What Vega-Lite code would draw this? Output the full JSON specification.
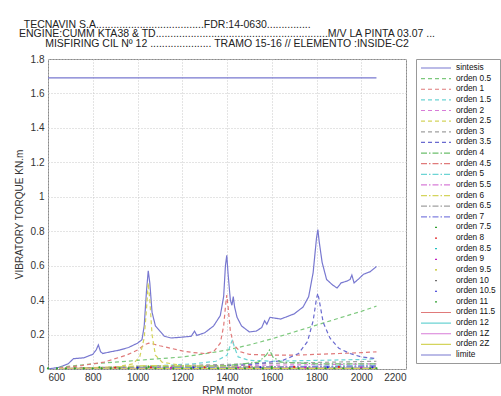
{
  "$schema": "https://vega.github.io/schema/vega-lite/v6.json",
  "width": 358,
  "height": 310,
  "padding": {"left": 14, "top": 19, "right": 5, "bottom": 2},
  "background": "white",
  "title": {
    "text": [
      "TECNAVIN S.A.....................................FDR:14-0630...............\u00a0\u00a0\u00a0\u00a0\u00a0\u00a0\u00a0\u00a0\u00a0\u00a0\u00a0\u00a0\u00a0\u00a0\u00a0\u00a0\u00a0\u00a0\u00a0\u00a0\u00a0\u00a0\u00a0\u00a0\u00a0\u00a0\u00a0\u00a0\u00a0\u00a0\u00a0\u00a0\u00a0\u00a0\u00a0\u00a0\u00a0\u00a0\u00a0\u00a0\u00a0\u200b",
      "ENGINE:CUMM KTA38 & TD...........................................................M/V LA PINTA 03.07 ...",
      "MISFIRING CIL Nº 12 ..................... TRAMO 15-16 // ELEMENTO :INSIDE-C2"
    ],
    "font": "Liberation Sans",
    "fontSize": 10.5,
    "fontWeight": "normal",
    "color": "#222222",
    "lineHeight": 9.5,
    "offset": 5,
    "anchor": "middle",
    "frame": "group"
  },
  "datasets": {
    "lines": [
      {"s": "sintesis", "x": 600, "y": 0.0},
      {"s": "sintesis", "x": 650, "y": 0.01},
      {"s": "sintesis", "x": 690, "y": 0.03},
      {"s": "sintesis", "x": 714, "y": 0.06},
      {"s": "sintesis", "x": 760, "y": 0.065},
      {"s": "sintesis", "x": 800, "y": 0.085},
      {"s": "sintesis", "x": 815, "y": 0.11},
      {"s": "sintesis", "x": 825, "y": 0.14},
      {"s": "sintesis", "x": 835, "y": 0.1},
      {"s": "sintesis", "x": 845, "y": 0.09},
      {"s": "sintesis", "x": 880, "y": 0.1},
      {"s": "sintesis", "x": 920, "y": 0.11},
      {"s": "sintesis", "x": 960, "y": 0.125},
      {"s": "sintesis", "x": 1000, "y": 0.15},
      {"s": "sintesis", "x": 1020, "y": 0.17},
      {"s": "sintesis", "x": 1030, "y": 0.25},
      {"s": "sintesis", "x": 1040, "y": 0.45},
      {"s": "sintesis", "x": 1048, "y": 0.57},
      {"s": "sintesis", "x": 1055, "y": 0.5},
      {"s": "sintesis", "x": 1065, "y": 0.33},
      {"s": "sintesis", "x": 1080, "y": 0.25},
      {"s": "sintesis", "x": 1100, "y": 0.22},
      {"s": "sintesis", "x": 1120, "y": 0.19},
      {"s": "sintesis", "x": 1150, "y": 0.18},
      {"s": "sintesis", "x": 1200, "y": 0.185},
      {"s": "sintesis", "x": 1240, "y": 0.19},
      {"s": "sintesis", "x": 1255, "y": 0.22},
      {"s": "sintesis", "x": 1265, "y": 0.195},
      {"s": "sintesis", "x": 1300, "y": 0.21},
      {"s": "sintesis", "x": 1340, "y": 0.25},
      {"s": "sintesis", "x": 1370, "y": 0.31},
      {"s": "sintesis", "x": 1385, "y": 0.42},
      {"s": "sintesis", "x": 1393, "y": 0.6},
      {"s": "sintesis", "x": 1399, "y": 0.66},
      {"s": "sintesis", "x": 1405, "y": 0.55},
      {"s": "sintesis", "x": 1415, "y": 0.4},
      {"s": "sintesis", "x": 1422, "y": 0.37},
      {"s": "sintesis", "x": 1428, "y": 0.42},
      {"s": "sintesis", "x": 1434, "y": 0.36},
      {"s": "sintesis", "x": 1445, "y": 0.3},
      {"s": "sintesis", "x": 1465, "y": 0.25},
      {"s": "sintesis", "x": 1500, "y": 0.215},
      {"s": "sintesis", "x": 1530, "y": 0.22},
      {"s": "sintesis", "x": 1555, "y": 0.24},
      {"s": "sintesis", "x": 1568, "y": 0.28},
      {"s": "sintesis", "x": 1578, "y": 0.26},
      {"s": "sintesis", "x": 1592, "y": 0.3},
      {"s": "sintesis", "x": 1640, "y": 0.29},
      {"s": "sintesis", "x": 1700, "y": 0.32},
      {"s": "sintesis", "x": 1740, "y": 0.36},
      {"s": "sintesis", "x": 1765, "y": 0.42},
      {"s": "sintesis", "x": 1785, "y": 0.56},
      {"s": "sintesis", "x": 1800, "y": 0.76},
      {"s": "sintesis", "x": 1806, "y": 0.81},
      {"s": "sintesis", "x": 1812, "y": 0.74},
      {"s": "sintesis", "x": 1825, "y": 0.62},
      {"s": "sintesis", "x": 1845, "y": 0.52},
      {"s": "sintesis", "x": 1870, "y": 0.49},
      {"s": "sintesis", "x": 1892, "y": 0.47},
      {"s": "sintesis", "x": 1910, "y": 0.5},
      {"s": "sintesis", "x": 1935, "y": 0.51},
      {"s": "sintesis", "x": 1950, "y": 0.52},
      {"s": "sintesis", "x": 1958, "y": 0.545},
      {"s": "sintesis", "x": 1968, "y": 0.5},
      {"s": "sintesis", "x": 1990, "y": 0.525},
      {"s": "sintesis", "x": 2010, "y": 0.55},
      {"s": "sintesis", "x": 2040, "y": 0.565},
      {"s": "sintesis", "x": 2068, "y": 0.595},
      {"s": "limite", "x": 600, "y": 1.69},
      {"s": "limite", "x": 2068, "y": 1.69},
      {"s": "orden 0.5", "x": 650, "y": 0.01},
      {"s": "orden 0.5", "x": 800, "y": 0.03},
      {"s": "orden 0.5", "x": 900, "y": 0.04},
      {"s": "orden 0.5", "x": 1000, "y": 0.05},
      {"s": "orden 0.5", "x": 1100, "y": 0.06},
      {"s": "orden 0.5", "x": 1200, "y": 0.07},
      {"s": "orden 0.5", "x": 1300, "y": 0.088},
      {"s": "orden 0.5", "x": 1400, "y": 0.11},
      {"s": "orden 0.5", "x": 1500, "y": 0.14},
      {"s": "orden 0.5", "x": 1600, "y": 0.175},
      {"s": "orden 0.5", "x": 1700, "y": 0.215},
      {"s": "orden 0.5", "x": 1800, "y": 0.255},
      {"s": "orden 0.5", "x": 1900, "y": 0.295},
      {"s": "orden 0.5", "x": 2000, "y": 0.335},
      {"s": "orden 0.5", "x": 2068, "y": 0.365},
      {"s": "orden 1", "x": 650, "y": 0.005},
      {"s": "orden 1", "x": 750, "y": 0.02},
      {"s": "orden 1", "x": 850, "y": 0.04},
      {"s": "orden 1", "x": 950, "y": 0.08},
      {"s": "orden 1", "x": 1000, "y": 0.11},
      {"s": "orden 1", "x": 1030, "y": 0.14},
      {"s": "orden 1", "x": 1050, "y": 0.15},
      {"s": "orden 1", "x": 1070, "y": 0.145},
      {"s": "orden 1", "x": 1100, "y": 0.135},
      {"s": "orden 1", "x": 1150, "y": 0.12},
      {"s": "orden 1", "x": 1200, "y": 0.105},
      {"s": "orden 1", "x": 1250, "y": 0.095},
      {"s": "orden 1", "x": 1300, "y": 0.09},
      {"s": "orden 1", "x": 1340, "y": 0.1},
      {"s": "orden 1", "x": 1370, "y": 0.15},
      {"s": "orden 1", "x": 1385, "y": 0.25},
      {"s": "orden 1", "x": 1393, "y": 0.36},
      {"s": "orden 1", "x": 1399, "y": 0.43},
      {"s": "orden 1", "x": 1405, "y": 0.36},
      {"s": "orden 1", "x": 1415, "y": 0.22},
      {"s": "orden 1", "x": 1430, "y": 0.14},
      {"s": "orden 1", "x": 1460, "y": 0.1},
      {"s": "orden 1", "x": 1500, "y": 0.085},
      {"s": "orden 1", "x": 1600, "y": 0.08},
      {"s": "orden 1", "x": 1700, "y": 0.08},
      {"s": "orden 1", "x": 1800, "y": 0.085},
      {"s": "orden 1", "x": 1900, "y": 0.09},
      {"s": "orden 1", "x": 2000, "y": 0.095},
      {"s": "orden 1", "x": 2068, "y": 0.1},
      {"s": "orden 1.5", "x": 650, "y": 0.002},
      {"s": "orden 1.5", "x": 900, "y": 0.01},
      {"s": "orden 1.5", "x": 1100, "y": 0.02},
      {"s": "orden 1.5", "x": 1250, "y": 0.03},
      {"s": "orden 1.5", "x": 1350, "y": 0.045},
      {"s": "orden 1.5", "x": 1400, "y": 0.08},
      {"s": "orden 1.5", "x": 1418, "y": 0.15},
      {"s": "orden 1.5", "x": 1425, "y": 0.17},
      {"s": "orden 1.5", "x": 1432, "y": 0.13},
      {"s": "orden 1.5", "x": 1450, "y": 0.07},
      {"s": "orden 1.5", "x": 1500, "y": 0.05},
      {"s": "orden 1.5", "x": 1600, "y": 0.045},
      {"s": "orden 1.5", "x": 1800, "y": 0.05},
      {"s": "orden 1.5", "x": 2000, "y": 0.055},
      {"s": "orden 1.5", "x": 2068, "y": 0.06},
      {"s": "orden 2", "x": 650, "y": 0.002},
      {"s": "orden 2", "x": 1000, "y": 0.01},
      {"s": "orden 2", "x": 1400, "y": 0.02},
      {"s": "orden 2", "x": 1800, "y": 0.025},
      {"s": "orden 2", "x": 2068, "y": 0.03},
      {"s": "orden 2.5", "x": 650, "y": 0.002},
      {"s": "orden 2.5", "x": 900, "y": 0.01},
      {"s": "orden 2.5", "x": 980, "y": 0.03},
      {"s": "orden 2.5", "x": 1010, "y": 0.07},
      {"s": "orden 2.5", "x": 1030, "y": 0.18},
      {"s": "orden 2.5", "x": 1042, "y": 0.38},
      {"s": "orden 2.5", "x": 1048, "y": 0.5},
      {"s": "orden 2.5", "x": 1055, "y": 0.4},
      {"s": "orden 2.5", "x": 1065, "y": 0.2},
      {"s": "orden 2.5", "x": 1080, "y": 0.08},
      {"s": "orden 2.5", "x": 1110, "y": 0.04},
      {"s": "orden 2.5", "x": 1200, "y": 0.02},
      {"s": "orden 2.5", "x": 1400, "y": 0.01},
      {"s": "orden 2.5", "x": 2068, "y": 0.005},
      {"s": "orden 3", "x": 650, "y": 0.002},
      {"s": "orden 3", "x": 1000, "y": 0.015},
      {"s": "orden 3", "x": 1500, "y": 0.03},
      {"s": "orden 3", "x": 2068, "y": 0.045},
      {"s": "orden 3.5", "x": 650, "y": 0.002},
      {"s": "orden 3.5", "x": 1200, "y": 0.01},
      {"s": "orden 3.5", "x": 1500, "y": 0.025},
      {"s": "orden 3.5", "x": 1650, "y": 0.05},
      {"s": "orden 3.5", "x": 1720, "y": 0.09},
      {"s": "orden 3.5", "x": 1760, "y": 0.16},
      {"s": "orden 3.5", "x": 1785, "y": 0.28},
      {"s": "orden 3.5", "x": 1800, "y": 0.41},
      {"s": "orden 3.5", "x": 1806, "y": 0.44},
      {"s": "orden 3.5", "x": 1812, "y": 0.4},
      {"s": "orden 3.5", "x": 1830, "y": 0.27},
      {"s": "orden 3.5", "x": 1860, "y": 0.18},
      {"s": "orden 3.5", "x": 1900, "y": 0.12},
      {"s": "orden 3.5", "x": 1950, "y": 0.09},
      {"s": "orden 3.5", "x": 2000, "y": 0.07},
      {"s": "orden 3.5", "x": 2068, "y": 0.06},
      {"s": "orden 4", "x": 650, "y": 0.002},
      {"s": "orden 4", "x": 1400, "y": 0.02},
      {"s": "orden 4", "x": 1540, "y": 0.04},
      {"s": "orden 4", "x": 1575, "y": 0.08},
      {"s": "orden 4", "x": 1590, "y": 0.11},
      {"s": "orden 4", "x": 1605, "y": 0.07},
      {"s": "orden 4", "x": 1640, "y": 0.04},
      {"s": "orden 4", "x": 1800, "y": 0.03},
      {"s": "orden 4", "x": 2068, "y": 0.03},
      {"s": "orden 4.5", "x": 650, "y": 0.0},
      {"s": "orden 4.5", "x": 2068, "y": 0.015},
      {"s": "orden 5", "x": 650, "y": 0.0},
      {"s": "orden 5", "x": 2068, "y": 0.02},
      {"s": "orden 5.5", "x": 650, "y": 0.0},
      {"s": "orden 5.5", "x": 2068, "y": 0.01},
      {"s": "orden 6", "x": 650, "y": 0.0},
      {"s": "orden 6", "x": 1048, "y": 0.02},
      {"s": "orden 6", "x": 2068, "y": 0.008},
      {"s": "orden 6.5", "x": 650, "y": 0.0},
      {"s": "orden 6.5", "x": 2068, "y": 0.012},
      {"s": "orden 7", "x": 650, "y": 0.0},
      {"s": "orden 7", "x": 1400, "y": 0.01},
      {"s": "orden 7", "x": 2068, "y": 0.018},
      {"s": "orden 11.5", "x": 650, "y": 0.003},
      {"s": "orden 11.5", "x": 2068, "y": 0.006},
      {"s": "orden 12", "x": 650, "y": 0.002},
      {"s": "orden 12", "x": 2068, "y": 0.005},
      {"s": "orden 1Z", "x": 650, "y": 0.001},
      {"s": "orden 1Z", "x": 2068, "y": 0.004},
      {"s": "orden 2Z", "x": 650, "y": 0.001},
      {"s": "orden 2Z", "x": 2068, "y": 0.003}
    ],
    "dots": [
      {"s": "orden 11", "x": 600, "y": 0.003},
      {"s": "orden 11", "x": 640, "y": 0.003},
      {"s": "orden 11", "x": 680, "y": 0.003},
      {"s": "orden 11", "x": 720, "y": 0.003},
      {"s": "orden 11", "x": 760, "y": 0.003},
      {"s": "orden 11", "x": 800, "y": 0.004},
      {"s": "orden 11", "x": 840, "y": 0.004},
      {"s": "orden 11", "x": 880, "y": 0.004},
      {"s": "orden 11", "x": 920, "y": 0.004},
      {"s": "orden 11", "x": 960, "y": 0.004},
      {"s": "orden 11", "x": 1000, "y": 0.004},
      {"s": "orden 11", "x": 1040, "y": 0.004},
      {"s": "orden 11", "x": 1080, "y": 0.004},
      {"s": "orden 11", "x": 1120, "y": 0.004},
      {"s": "orden 11", "x": 1160, "y": 0.004},
      {"s": "orden 11", "x": 1200, "y": 0.004},
      {"s": "orden 11", "x": 1240, "y": 0.004},
      {"s": "orden 11", "x": 1280, "y": 0.004},
      {"s": "orden 11", "x": 1320, "y": 0.004},
      {"s": "orden 11", "x": 1360, "y": 0.004},
      {"s": "orden 11", "x": 1400, "y": 0.004},
      {"s": "orden 11", "x": 1440, "y": 0.004},
      {"s": "orden 11", "x": 1480, "y": 0.004},
      {"s": "orden 11", "x": 1520, "y": 0.004},
      {"s": "orden 11", "x": 1560, "y": 0.004},
      {"s": "orden 11", "x": 1600, "y": 0.004},
      {"s": "orden 11", "x": 1640, "y": 0.004},
      {"s": "orden 11", "x": 1680, "y": 0.004},
      {"s": "orden 11", "x": 1720, "y": 0.004},
      {"s": "orden 11", "x": 1760, "y": 0.004},
      {"s": "orden 11", "x": 1800, "y": 0.004},
      {"s": "orden 11", "x": 1840, "y": 0.004},
      {"s": "orden 11", "x": 1880, "y": 0.004},
      {"s": "orden 11", "x": 1920, "y": 0.004},
      {"s": "orden 11", "x": 1960, "y": 0.004},
      {"s": "orden 11", "x": 2000, "y": 0.004},
      {"s": "orden 11", "x": 2040, "y": 0.004},
      {"s": "orden 11", "x": 2068, "y": 0.004},
      {"s": "orden 8", "x": 900, "y": 0.008},
      {"s": "orden 8", "x": 1060, "y": 0.01},
      {"s": "orden 8", "x": 1300, "y": 0.01},
      {"s": "orden 8", "x": 1500, "y": 0.012},
      {"s": "orden 8", "x": 1700, "y": 0.012},
      {"s": "orden 8", "x": 1900, "y": 0.012},
      {"s": "orden 10.5", "x": 1000, "y": 0.008},
      {"s": "orden 10.5", "x": 1250, "y": 0.008},
      {"s": "orden 10.5", "x": 1550, "y": 0.01},
      {"s": "orden 10.5", "x": 1850, "y": 0.01},
      {"s": "orden 10.5", "x": 2050, "y": 0.01},
      {"s": "orden 9", "x": 1150, "y": 0.006},
      {"s": "orden 9", "x": 1450, "y": 0.008},
      {"s": "orden 9", "x": 1750, "y": 0.008},
      {"s": "orden 9", "x": 2000, "y": 0.008},
      {"s": "orden 7.5", "x": 830, "y": 0.01},
      {"s": "orden 7.5", "x": 1050, "y": 0.012},
      {"s": "orden 7.5", "x": 1600, "y": 0.012}
    ]
  },
  "encoding": {
    "x": {
      "field": "x",
      "type": "quantitative",
      "scale": {"domain": [600, 2200], "nice": false},
      "axis": {"values": [600, 800, 1000, 1200, 1400, 1600, 1800, 2000, 2200], "format": "d", "title": "RPM motor", "labelOverlap": false}
    },
    "y": {
      "field": "y",
      "type": "quantitative",
      "scale": {"domain": [0, 1.8], "nice": false},
      "axis": {"values": [0, 0.2, 0.4, 0.6, 0.8, 1, 1.2, 1.4, 1.6, 1.8], "format": "~g", "title": "VIBRATORY TORQUE KN.m", "labelOverlap": false}
    }
  },
  "layer": [
    {
      "data": {"name": "lines"},
      "mark": {"type": "line", "strokeWidth": 1.2, "clip": true},
      "encoding": {
        "color": {
          "field": "s",
          "type": "nominal",
          "scale": {
            "domain": ["sintesis", "orden 0.5", "orden 1", "orden 1.5", "orden 2", "orden 2.5", "orden 3", "orden 3.5", "orden 4", "orden 4.5", "orden 5", "orden 5.5", "orden 6", "orden 6.5", "orden 7", "orden 7.5", "orden 8", "orden 8.5", "orden 9", "orden 9.5", "orden 10", "orden 10.5", "orden 11", "orden 11.5", "orden 12", "orden 1Z", "orden 2Z", "limite"],
            "range": ["#7878d0", "#7cc87c", "#e07a7a", "#6cd4d4", "#d87cd8", "#d4d45c", "#a0a0a0", "#6a6ad0", "#6cbf6c", "#e07a7a", "#6cd4d4", "#d87cd8", "#d4d45c", "#a0a0a0", "#8080e0", "#30a030", "#e02020", "#20c0c0", "#c020c0", "#c0c020", "#707070", "#2020d0", "#30a030", "#e07a7a", "#6cd4d4", "#d87cd8", "#d4d45c", "#7878d0"]
          },
          "legend": {
            "title": null,
            "orient": "right",
            "offset": 10,
            "symbolType": "M-1,0L6.5,0",
            "symbolSize": 64,
            "symbolStrokeWidth": 1.2,
            "labelFontSize": 8.3,
            "labelColor": "#111111",
            "labelOffset": 26,
            "rowPadding": 1.63,
            "padding": 4,
            "strokeColor": "#999999",
            "fillColor": "white",
            "labelLimit": 100
          }
        },
        "strokeDash": {
          "field": "s",
          "type": "nominal",
          "scale": {
            "domain": ["sintesis", "orden 0.5", "orden 1", "orden 1.5", "orden 2", "orden 2.5", "orden 3", "orden 3.5", "orden 4", "orden 4.5", "orden 5", "orden 5.5", "orden 6", "orden 6.5", "orden 7", "orden 7.5", "orden 8", "orden 8.5", "orden 9", "orden 9.5", "orden 10", "orden 10.5", "orden 11", "orden 11.5", "orden 12", "orden 1Z", "orden 2Z", "limite"],
            "range": [[1, 0], [4, 3], [4, 3], [4, 3], [4, 3], [4, 3], [4, 3], [4, 3], [6, 2, 1.5, 2], [6, 2, 1.5, 2], [6, 2, 1.5, 2], [6, 2, 1.5, 2], [6, 2, 1.5, 2], [6, 2, 1.5, 2], [6, 2, 1.5, 2], [0.01, 14, 2, 100], [0.01, 14, 2, 100], [0.01, 14, 2, 100], [0.01, 14, 2, 100], [0.01, 14, 2, 100], [0.01, 14, 2, 100], [0.01, 14, 2, 100], [0.01, 14, 2, 100], [1, 0], [1, 0], [1, 0], [1, 0], [1, 0]]
          },
          "legend": {
            "title": null,
            "orient": "right",
            "offset": 10,
            "symbolType": "M-1,0L6.5,0",
            "symbolSize": 64,
            "symbolStrokeWidth": 1.2,
            "labelFontSize": 8.3,
            "labelColor": "#111111",
            "labelOffset": 26,
            "rowPadding": 1.63,
            "padding": 4,
            "strokeColor": "#999999",
            "fillColor": "white",
            "labelLimit": 100
          }
        }
      }
    },
    {
      "data": {"name": "dots"},
      "mark": {"type": "circle", "size": 5, "opacity": 1},
      "encoding": {
        "fill": {
          "field": "s",
          "type": "nominal",
          "scale": {
            "domain": ["orden 7.5", "orden 8", "orden 8.5", "orden 9", "orden 9.5", "orden 10", "orden 10.5", "orden 11"],
            "range": ["#30a030", "#e02020", "#20c0c0", "#c020c0", "#c0c020", "#707070", "#2020d0", "#30a030"]
          },
          "legend": null
        }
      }
    }
  ],
  "config": {
    "font": "Liberation Sans",
    "view": {"stroke": "#8a8a8a", "strokeWidth": 1},
    "axis": {
      "grid": true,
      "gridColor": "#c8c8c8",
      "gridDash": [1, 2],
      "gridWidth": 1,
      "domain": false,
      "ticks": false,
      "labelFontSize": 10,
      "labelColor": "#333333",
      "titleFontSize": 10,
      "titleFontWeight": "normal",
      "titleColor": "#333333"
    },
    "axisX": {"labelPadding": 3, "titlePadding": 3},
    "axisY": {"labelPadding": 4, "titlePadding": 6}
  }
}
